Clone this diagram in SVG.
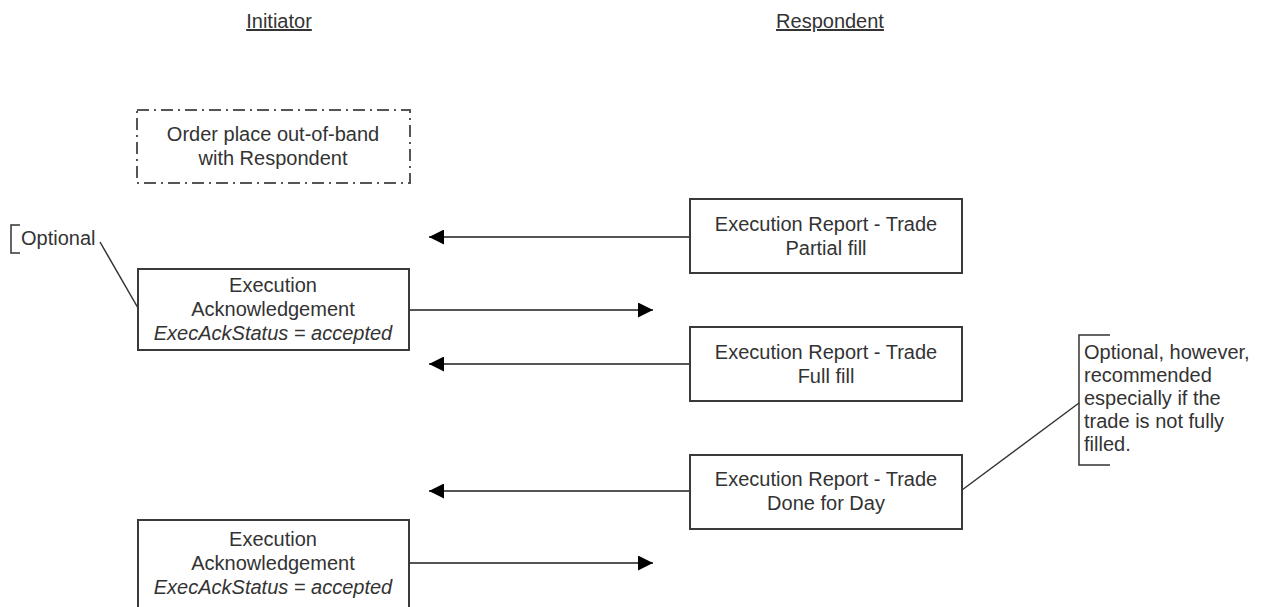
<svg xmlns="http://www.w3.org/2000/svg" width="1263" height="607" viewBox="0 0 1263 607">
<style>
text{font-family:"Liberation Sans",Arial,sans-serif;font-size:20px;fill:#333}
.c{text-anchor:middle}
.hdr{text-decoration:underline}
.it{font-style:italic}
.box{fill:#fff;stroke:#3a3a3a;stroke-width:2}
.dash{fill:#fff;stroke:#555;stroke-width:2;stroke-dasharray:12 5 2 5}
.msg{stroke:#555;stroke-width:2;fill:none}
.note{stroke:#333;stroke-width:1.5;fill:none}
</style>
<defs>
<marker id="ah" viewBox="0 0 15 15" refX="15" refY="7.5" markerWidth="15" markerHeight="15" markerUnits="userSpaceOnUse" orient="auto">
<path d="M0,0 L15,7.5 L0,15 Z" fill="#000"/>
</marker>
</defs>
<rect width="1263" height="607" fill="#fff"/>
<g id="headers">
<text class="c hdr" x="279" y="28">Initiator</text>
<text class="c hdr" x="830" y="28">Respondent</text>
</g>
<g id="connectors">
<line class="msg" x1="690" y1="237" x2="429" y2="237" marker-end="url(#ah)"/>
<line class="msg" x1="409" y1="310" x2="653" y2="310" marker-end="url(#ah)"/>
<line class="msg" x1="690" y1="364" x2="429" y2="364" marker-end="url(#ah)"/>
<line class="msg" x1="690" y1="491" x2="429" y2="491" marker-end="url(#ah)"/>
<line class="msg" x1="409" y1="563" x2="653" y2="563" marker-end="url(#ah)"/>
<line class="note" x1="100" y1="242" x2="138" y2="308"/>
<line class="note" x1="962" y1="490" x2="1079" y2="403"/>
</g>
<g id="order-oob">
<rect class="dash" x="137" y="110" width="273" height="73"/>
<text class="c" x="273" y="141">Order place out-of-band</text>
<text class="c" x="273" y="165">with Respondent</text>
</g>
<g id="exec-ack-1">
<rect class="box" x="138" y="269" width="271" height="81"/>
<text class="c" x="273" y="292">Execution</text>
<text class="c" x="273" y="316">Acknowledgement</text>
<text class="c it" x="273" y="340">ExecAckStatus = accepted</text>
</g>
<g id="exec-ack-2">
<rect class="box" x="138" y="520" width="271" height="100"/>
<text class="c" x="273" y="546">Execution</text>
<text class="c" x="273" y="570">Acknowledgement</text>
<text class="c it" x="273" y="594">ExecAckStatus = accepted</text>
</g>
<g id="er-partial">
<rect class="box" x="690" y="199" width="272" height="74"/>
<text class="c" x="826" y="231">Execution Report - Trade</text>
<text class="c" x="826" y="255">Partial fill</text>
</g>
<g id="er-full">
<rect class="box" x="690" y="327" width="272" height="74"/>
<text class="c" x="826" y="359">Execution Report - Trade</text>
<text class="c" x="826" y="383">Full fill</text>
</g>
<g id="er-dfd">
<rect class="box" x="690" y="455" width="272" height="74"/>
<text class="c" x="826" y="486">Execution Report - Trade</text>
<text class="c" x="826" y="510">Done for Day</text>
</g>
<g id="note-optional">
<path class="note" d="M20,225 L11,225 L11,253 L20,253"/>
<text x="21" y="245">Optional</text>
</g>
<g id="note-recommended">
<path class="note" d="M1110,335 L1079,335 L1079,465 L1110,465"/>
<text x="1084" y="359">Optional, however,</text>
<text x="1084" y="382">recommended</text>
<text x="1084" y="405">especially if the</text>
<text x="1084" y="428">trade is not fully</text>
<text x="1084" y="451">filled.</text>
</g>
</svg>
